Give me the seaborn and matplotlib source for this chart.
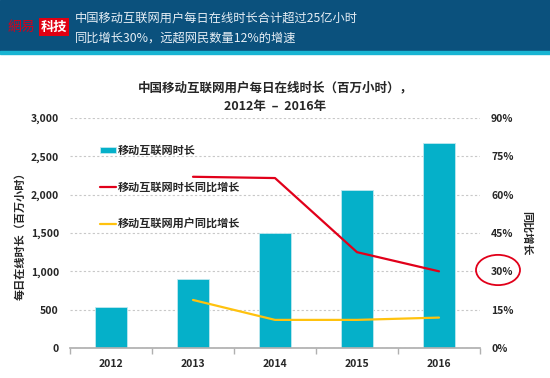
import numpy as np
import pandas as pd
import matplotlib.pyplot as plt
import seaborn as sns
from matplotlib.patches import Rectangle, Circle
from matplotlib.ticker import FuncFormatter, PercentFormatter

years = ['2012', '2013', '2014', '2015', '2016']
hours = [535, 900, 1500, 2060, 2680]
hours_growth = [np.nan, 67.0, 66.5, 37.5, 30.0]
users_growth = [np.nan, 18.8, 11.0, 11.0, 11.9]

bar_color = '#05b0c9'
red = '#e1001a'
yellow = '#ffc20e'

sns.set_theme(style='white')
plt.rcParams['font.family'] = ['Noto Sans CJK SC', 'DejaVu Sans']

df = pd.DataFrame({'year': years, 'hours': hours,
                   'hg': hours_growth, 'ug': users_growth})
df['pos'] = np.arange(len(years))

fig = plt.figure(figsize=(5.5, 3.78), dpi=100)
fig.patch.set_facecolor('white')

# header band
fig.patches.append(Rectangle((0, 1 - 51 / 378), 1, 51 / 378, transform=fig.transFigure,
                             color='#0b517d', zorder=0))
fig.patches.append(Rectangle((0, 1 - 54 / 378), 1, 3 / 378, transform=fig.transFigure,
                             color='#18b4d2', zorder=0))
fig.text(8 / 550, 1 - 27 / 378, '網易', color='#d4001a', fontsize=10, va='center')
fig.text(41 / 550, 1 - 27 / 378, '科技', color='white', fontsize=9.5, va='center',
         fontweight='bold', bbox=dict(boxstyle='square,pad=0.12', fc='#e00012', ec='none'))
fig.text(75 / 550, 1 - 18 / 378, '中国移动互联网用户每日在线时长合计超过25亿小时',
         color='#e6eef5', fontsize=8.8, va='center')
fig.text(75 / 550, 1 - 38 / 378, '同比增长30%，远超网民数量12%的增速',
         color='#e6eef5', fontsize=8.8, va='center')

ax = fig.add_axes([70 / 550, 1 - 348 / 378, 410 / 550, 230 / 378])
sns.barplot(data=df, x='year', y='hours', color=bar_color, width=0.4,
            edgecolor='#bfe8f0', linewidth=0.6, saturation=1, ax=ax,
            label='移动互联网时长', zorder=2)
ax.set_ylim(0, 3000)
ax.set_xlim(-0.5, 4.5)
ax.set_yticks(np.arange(0, 3001, 500))
ax.yaxis.set_major_formatter(FuncFormatter(lambda v, p: f'{int(v):,}'))
ax.grid(axis='y', linestyle=(0, (2, 2)), color='#c8c8c8', linewidth=0.8, zorder=0)
ax.set_axisbelow(True)
for s in ['left', 'right', 'top']:
    ax.spines[s].set_visible(False)
ax.spines['bottom'].set_color('#b0b0b0')
ax.set_xticks(np.arange(-0.5, 5, 1), minor=True)
ax.tick_params(axis='x', which='minor', length=4, color='#b0b0b0', bottom=True)
ax.tick_params(axis='x', which='major', length=0, labelsize=7.5, pad=8)
ax.tick_params(axis='y', length=0, labelsize=7.5, pad=8)
for t in ax.get_xticklabels() + ax.get_yticklabels():
    t.set_fontweight('bold')
ax.set_xlabel('')
ax.set_ylabel('每日在线时长（百万小时）', fontsize=8, fontweight='bold', labelpad=3)

ax2 = ax.twinx()
sns.lineplot(x=df['pos'], y=df['hg'], color=red, linewidth=1.6, ax=ax2,
             label='移动互联网时长同比增长')
sns.lineplot(x=df['pos'], y=df['ug'], color=yellow, linewidth=1.6, ax=ax2,
             label='移动互联网用户同比增长')
ax2.set_ylim(0, 90)
ax2.set_xlim(-0.5, 4.5)
ax2.set_yticks(np.arange(0, 91, 15))
ax2.yaxis.set_major_formatter(PercentFormatter(decimals=0))
ax2.tick_params(axis='y', length=0, labelsize=7.5, pad=8)
for t in ax2.get_yticklabels():
    t.set_fontweight('bold')
for s in ['left', 'right', 'top', 'bottom']:
    ax2.spines[s].set_visible(False)
ax2.set_ylabel('同比增长', fontsize=8, fontweight='bold', rotation=-90, labelpad=14)
ax2.set_xlabel('')

h1, l1 = ax.get_legend_handles_labels()
h2, l2 = ax2.get_legend_handles_labels()
if ax.get_legend() is not None:
    ax.get_legend().remove()
ax2.legend(h1 + h2, l1 + l2, loc='upper left', bbox_to_anchor=(0.05, 0.93),
           frameon=False, labelspacing=2.15, handlelength=1.4, handleheight=0.5,
           handletextpad=0.2, prop={'size': 8, 'weight': 'bold'})

ax.set_title('中国移动互联网用户每日在线时长（百万小时），\n2012年  –  2016年',
             fontsize=9, fontweight='bold', pad=6, linespacing=1.5)

fig.patches.append(Circle((498 / 550, 1 - 270 / 378), 22 / 550, transform=fig.transFigure,
                          fill=False, ec=red, lw=1.3))

fig.savefig('out.png', dpi=100)
